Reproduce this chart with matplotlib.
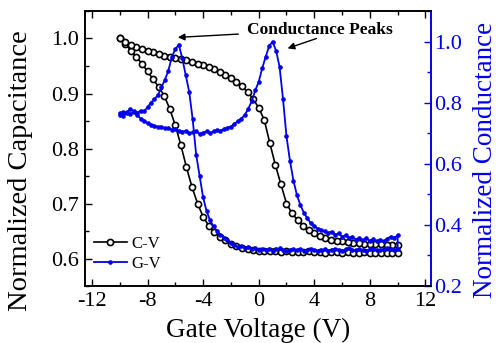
import matplotlib
matplotlib.use("Agg")
import matplotlib.pyplot as plt
from matplotlib.ticker import MultipleLocator

plt.rcParams['font.family'] = ['Liberation Serif', 'DejaVu Serif']
plt.rcParams['mathtext.fontset'] = 'stix'

BLUE = '#0000ee'

# ---- C-V data (gate voltage sweep, normalized capacitance) ----
v_cap = [-10.0, -9.6, -9.2, -8.8, -8.4, -8.0, -7.6, -7.2, -6.8, -6.4,
         -6.0, -5.6, -5.2, -4.8, -4.4, -4.0, -3.6, -3.2, -2.8, -2.4,
         -2.0, -1.6, -1.2, -0.8, -0.4, 0.0, 0.4, 0.8, 1.2, 1.6,
         2.0, 2.4, 2.8, 3.2, 3.6, 4.0, 4.4, 4.8, 5.2, 5.6,
         6.0, 6.4, 6.8, 7.2, 7.6, 8.0, 8.4, 8.8, 9.2, 9.6, 10.0]
cap_forward = [1.000, 0.990, 0.978, 0.966, 0.954, 0.940, 0.926, 0.912, 0.896, 0.872,
               0.842, 0.806, 0.766, 0.730, 0.700, 0.676, 0.660, 0.648, 0.640, 0.633,
               0.627, 0.623, 0.620, 0.617, 0.615, 0.614, 0.613, 0.613, 0.613, 0.612,
               0.613, 0.612, 0.612, 0.612, 0.613, 0.612, 0.612, 0.611, 0.612, 0.612,
               0.611, 0.612, 0.611, 0.611, 0.612, 0.611, 0.611, 0.611, 0.611, 0.611, 0.611]
cap_reverse = [1.000, 0.993, 0.988, 0.984, 0.981, 0.978, 0.975, 0.972, 0.969, 0.967,
               0.965, 0.962, 0.960, 0.957, 0.954, 0.951, 0.948, 0.944, 0.939, 0.934,
               0.928, 0.921, 0.913, 0.903, 0.890, 0.874, 0.852, 0.810, 0.770, 0.735,
               0.700, 0.682, 0.670, 0.660, 0.652, 0.646, 0.641, 0.637, 0.634, 0.632,
               0.631, 0.630, 0.629, 0.628, 0.627, 0.627, 0.626, 0.626, 0.625, 0.625, 0.625]

# ---- G-V data (normalized conductance) ----
v_cond = [-10.0, -9.75, -9.5, -9.25, -9.0, -8.75, -8.5, -8.25, -8.0, -7.75,
          -7.5, -7.25, -7.0, -6.75, -6.5, -6.25, -6.0, -5.75, -5.5, -5.25,
          -5.0, -4.75, -4.5, -4.25, -4.0, -3.75, -3.5, -3.25, -3.0, -2.75,
          -2.5, -2.25, -2.0, -1.75, -1.5, -1.25, -1.0, -0.75, -0.5, -0.25,
          0.0, 0.25, 0.5, 0.75, 1.0, 1.25, 1.5, 1.75, 2.0, 2.25,
          2.5, 2.75, 3.0, 3.25, 3.5, 3.75, 4.0, 4.25, 4.5, 4.75,
          5.0, 5.25, 5.5, 5.75, 6.0, 6.25, 6.5, 6.75, 7.0, 7.25,
          7.5, 7.75, 8.0, 8.25, 8.5, 8.75, 9.0, 9.25, 9.5, 9.75, 10.0]
cond_forward = [0.760, 0.757, 0.765, 0.762, 0.770, 0.766, 0.774, 0.772, 0.785, 0.800,
                0.812, 0.825, 0.850, 0.875, 0.905, 0.950, 0.975, 0.990, 0.945, 0.890,
                0.835, 0.745, 0.630, 0.560, 0.490, 0.445, 0.415, 0.395, 0.380, 0.368,
                0.358, 0.350, 0.342, 0.335, 0.328, 0.332, 0.324, 0.328, 0.321, 0.326,
                0.319, 0.322, 0.317, 0.321, 0.316, 0.320, 0.323, 0.318, 0.315, 0.319,
                0.322, 0.317, 0.320, 0.316, 0.319, 0.321, 0.317, 0.314, 0.318, 0.320,
                0.316, 0.319, 0.322, 0.318, 0.316, 0.320, 0.323, 0.319, 0.317, 0.321,
                0.318, 0.316, 0.320, 0.322, 0.319, 0.317, 0.321, 0.324, 0.320, 0.318, 0.322]
cond_reverse = [0.765, 0.770, 0.768, 0.778, 0.772, 0.760, 0.748, 0.740, 0.733, 0.728,
                0.725, 0.720, 0.722, 0.716, 0.718, 0.712, 0.715, 0.708, 0.705, 0.708,
                0.700, 0.703, 0.706, 0.698, 0.702, 0.707, 0.700, 0.706, 0.710, 0.708,
                0.714, 0.718, 0.722, 0.730, 0.740, 0.748, 0.760, 0.780, 0.805, 0.840,
                0.868, 0.912, 0.950, 0.985, 1.000, 0.970, 0.918, 0.812, 0.690, 0.610,
                0.545, 0.498, 0.465, 0.440, 0.422, 0.405, 0.396, 0.388, 0.384, 0.379,
                0.374, 0.378, 0.368, 0.372, 0.362, 0.366, 0.358, 0.362, 0.352, 0.358,
                0.350, 0.356, 0.348, 0.354, 0.347, 0.352, 0.346, 0.355, 0.362, 0.358, 0.366]

x_ticks = [-12, -8, -4, 0, 4, 8, 12]
cap_ticks = [0.6, 0.7, 0.8, 0.9, 1.0]
cond_ticks = [0.2, 0.4, 0.6, 0.8, 1.0]

fig = plt.figure(figsize=(5.0, 3.43), dpi=100)
ax = fig.add_axes([0.17, 0.166, 0.692, 0.802])
ax2 = ax.twinx()

l1, = ax.plot(v_cap + v_cap[::-1], cap_forward + cap_reverse[::-1],
              color='black', lw=1.2, marker='o', ms=4.4, mfc='white',
              mec='black', mew=1.2, label='C-V')
l2, = ax2.plot(v_cond + v_cond[::-1], cond_forward + cond_reverse[::-1],
               color=BLUE, lw=1.3, marker='o', ms=2.3, mec=BLUE, mfc=BLUE,
               label='G-V')

ax.set_xlim(-12.5, 12.4)
ax.set_ylim(0.55, 1.05)
ax2.set_ylim(0.2, 1.1)

ax.set_xticks(x_ticks)
ax.set_xticklabels([str(t) for t in x_ticks])
ax.set_yticks(cap_ticks)
ax.set_yticklabels([f"{t:.1f}" for t in cap_ticks])
ax2.set_yticks(cond_ticks)
ax2.set_yticklabels([f"{t:.1f}" for t in cond_ticks])
ax.xaxis.set_minor_locator(MultipleLocator(2))
ax.yaxis.set_minor_locator(MultipleLocator(0.05))
ax2.yaxis.set_minor_locator(MultipleLocator(0.1))

ax.tick_params(which='both', direction='in', top=True, right=False,
               labelsize=16, width=1.0, pad=4)
ax.tick_params(which='major', length=5)
ax.tick_params(which='minor', length=3)
ax2.tick_params(which='both', direction='in', colors=BLUE, labelsize=16,
                width=1.0, pad=2)
ax2.tick_params(which='major', length=5)
ax2.tick_params(which='minor', length=3)

for sp in ax.spines.values():
    sp.set_linewidth(1.2)
for sp in ax2.spines.values():
    sp.set_linewidth(1.2)
ax2.spines['right'].set_color(BLUE)
ax.spines['right'].set_color(BLUE)

ax.set_xlabel('Gate Voltage (V)', fontsize=19.5)
ax.xaxis.set_label_coords(0.5, -0.115)
ax.set_ylabel('Normalized Capacitance', fontsize=20.5)
ax.yaxis.set_label_coords(-0.15, 0.42)
ax2.set_ylabel('Normalized Conductance', fontsize=19.5, color=BLUE)
ax2.yaxis.set_label_coords(1.12, 0.46)

ax.annotate('Conductance Peaks', xy=(-5.82, 1.002), xytext=(4.38, 1.016),
            ha='center', va='center', fontsize=12.5, fontweight='bold',
            arrowprops=dict(arrowstyle='-|>', color='black', lw=1.0,
                            mutation_scale=10, shrinkA=4, shrinkB=0))
ax.annotate('', xy=(2.08, 0.982), xytext=(4.16, 1.0),
            arrowprops=dict(arrowstyle='-|>', color='black', lw=1.0,
                            mutation_scale=10, shrinkA=0, shrinkB=0))

leg = ax2.legend(handles=[l1, l2], loc='upper left', bbox_to_anchor=(0.025, 0.182),
                 frameon=False, fontsize=12, handlelength=2.0, handletextpad=0.25,
                 labelspacing=0.25, borderpad=0, borderaxespad=0)

fig.savefig('out.png', dpi=100)
